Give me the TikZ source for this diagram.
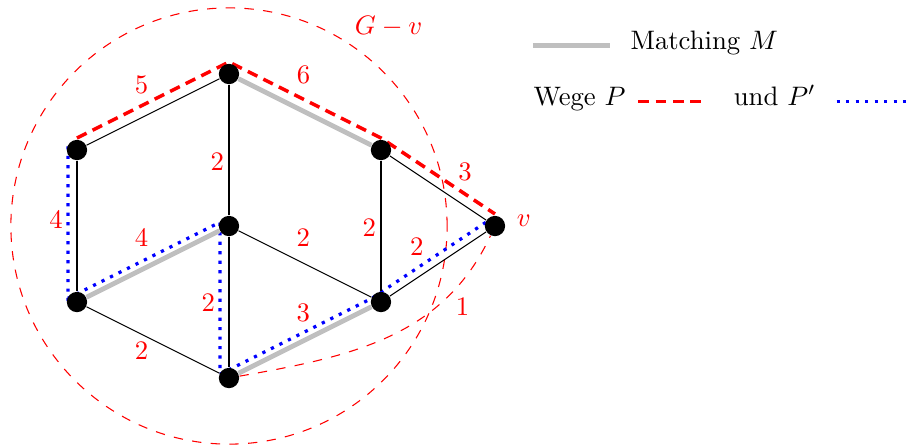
\documentclass[tikz,border=0pt]{standalone}
\usepackage{amsmath}
\usetikzlibrary{positioning,backgrounds}
\definecolor{matchc}{HTML}{BFBFBF}
\tikzset{
  ecke/.style={circle,fill=black,minimum size=7.6pt,inner sep=0pt},
  kante/.style={draw=black,line width=0.4pt},
  matching/.style={draw=matchc,line width=1.8pt},
  gew/.style={text=red,inner sep=0pt},
  wegP/.style={draw=red,line width=1.3pt,dash pattern=on 4pt off 2.5pt},
  wegQ/.style={draw=blue,line width=1.2pt,dash pattern=on 1.2pt off 2.35pt},
  rest/.style={draw=red,line width=0.4pt,dash pattern=on 3.5pt off 3.5pt},
}

\begin{document}
\begin{tikzpicture}
  \useasboundingbox (-3.013,-2.908) rectangle (8.921,2.974);
  % Knoten
  \node[ecke] (o)  at (0,2)   {};
  \node[ecke] (ol) at (-2,1)  {};
  \node[ecke] (or) at (2,1)   {};
  \node[ecke] (m)  at (0,0)   {};
  \node[ecke] (ul) at (-2,-1) {};
  \node[ecke] (ur) at (2,-1)  {};
  \node[ecke] (u)  at (0,-2)  {};
  \node[ecke] (v)  at (3.5,0) {};
  \node[gew,right=4pt of v,yshift=2pt] (vname) {$v$};
  \node[gew] (gv) at (2.1,2.62) {$G-v$};
  % Kanten
  \draw[kante] (ol) -- node[gew,shift={(-0.15,0.355)}]{5} (o);
  \draw[kante] (o) -- node[gew,shift={(-0.154,-0.154)}]{2} (m);
  \draw[kante] (ol) -- node[gew,shift={(-0.276,0.088)}]{4} (ul);
  \draw[kante] (m) -- node[gew,shift={(-0.022,0.351)}]{2} (ur);
  \draw[kante] (or) -- node[gew,shift={(-0.154,-0.022)}]{2} (ur);
  \draw[kante] (or) -- node[gew,shift={(0.355,0.215)}]{3} (v);
  \draw[kante] (ur) -- node[gew,shift={(-0.28,0.23)}]{2} (v);
  \draw[kante] (m) -- node[gew,shift={(-0.272,-0.009)}]{2} (u);
  \draw[kante] (ul) -- node[gew,shift={(-0.149,-0.14)}]{2} (u);
  \draw[rest] (u) to[out=10,in=-115] node[gew,pos=0.75,shift={(0.206,-0.118)}]{1} (v);
  % Matching M
  \draw[matching] (o) -- node[gew,shift={(-0.02,0.49)}]{6} (or);
  \draw[matching] (m) -- node[gew,shift={(-0.149,0.351)}]{4} (ul);
  \draw[matching] (u) -- node[gew,shift={(-0.022,0.351)}]{3} (ur);
  % Wege P und P'
  \begin{scope}[on background layer]
    \draw[rest] (m) circle[radius=2.87];
    \draw[wegQ,transform canvas={shift={(-3.4pt,1.4pt)}}] (ol.center) -- (ul.center) -- (m.center) -- (u.center) -- (ur.center) -- (v.center);
    \draw[wegP,transform canvas={yshift=4.5pt}] (ol.center) -- (o.center) -- (or.center) -- (v.center);
  \end{scope}
  % Legende
  \coordinate (mA) at (4.0,2.372);
  \coordinate (mB) at (5.01,2.372);
  \draw[matching] (mA) -- (mB);
  \node[anchor=base west,inner sep=0pt] (mtext) at (5.276,2.316) {Matching $M$};
  \node[anchor=base west,inner sep=0pt] (wtext) at (4.0,1.59) {Wege $P$};
  \coordinate (pA) at (5.386,1.636);
  \coordinate (pB) at (6.263,1.636);
  \draw[wegP] (pA) -- (pB);
  \node[anchor=base west,inner sep=0pt] (utext) at (6.636,1.59) {und $P'$};
  \coordinate (qA) at (7.996,1.636);
  \coordinate (qB) at (8.95,1.636);
  \draw[wegQ] (qA) -- (qB);
\end{tikzpicture}
\end{document}
